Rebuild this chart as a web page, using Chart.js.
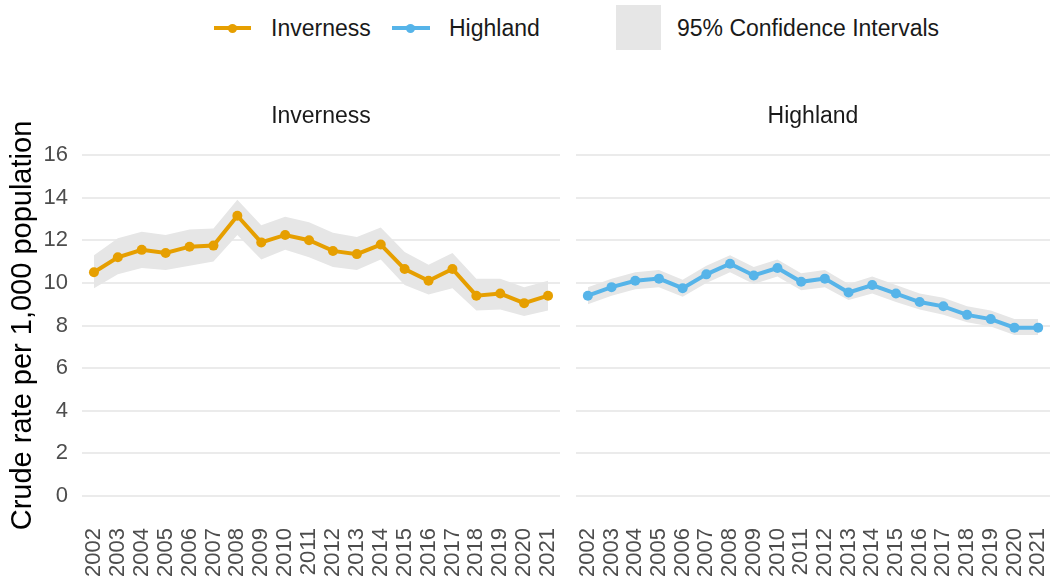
<!DOCTYPE html>
<html>
<head>
<meta charset="utf-8">
<script src="https://cdn.jsdelivr.net/npm/chart.js@4.4.0/dist/chart.umd.min.js"></script>
<style>
  body { margin: 0; background: #fff; width: 1055px; height: 585px; position: relative; overflow: hidden;
         font-family: "Liberation Sans", Arial, sans-serif; }
  canvas { position: absolute; top: 0; }
  #leftPanel { left: 0; }
  #rightPanel { left: 571px; }
  .lg { position: absolute; font-size: 23px; color: #1a1a1a; line-height: 26px; top: 15px; }
  .lgLine { position: absolute; height: 4px; top: 26px; }
  .lgDot { position: absolute; width: 9px; height: 9px; border-radius: 50%; top: 23.5px; }
  #ciBox { position: absolute; left: 616px; top: 5px; width: 45px; height: 45px; background: #e6e6e6; }
</style>
</head>
<body>
<div class="lgLine" style="left:214px;width:37px;background:#E69F00"></div>
<div class="lgDot" style="left:228px;background:#E69F00"></div>
<div class="lg" style="left:271px">Inverness</div>
<div class="lgLine" style="left:392px;width:38px;background:#56B4E9"></div>
<div class="lgDot" style="left:406px;background:#56B4E9"></div>
<div class="lg" style="left:449px">Highland</div>
<div id="ciBox"></div>
<div class="lg" style="left:677px">95% Confidence Intervals</div>

<canvas id="leftPanel" width="565" height="585"></canvas>
<canvas id="rightPanel" width="484" height="585"></canvas>

<script>
// Data
const years = ['2002','2003','2004','2005','2006','2007','2008','2009','2010','2011',
               '2012','2013','2014','2015','2016','2017','2018','2019','2020','2021'];

const invernessRate  = [10.5, 11.2, 11.55, 11.4, 11.7, 11.75, 13.15, 11.9, 12.25, 12.0,
                        11.5, 11.35, 11.8, 10.65, 10.1, 10.65, 9.4, 9.5, 9.05, 9.4];
const invernessLower = [9.75, 10.4, 10.7, 10.6, 10.8, 11.0, 12.25, 11.1, 11.55, 11.2,
                        10.75, 10.6, 11.1, 9.9, 9.45, 9.75, 8.7, 8.75, 8.45, 8.7];
const invernessUpper = [11.3, 12.1, 12.4, 12.25, 12.5, 12.55, 13.9, 12.7, 13.1, 12.85,
                        12.35, 12.15, 12.6, 11.45, 10.85, 11.4, 10.2, 10.2, 9.8, 10.1];

const highlandRate  = [9.4, 9.8, 10.1, 10.2, 9.75, 10.4, 10.9, 10.35, 10.7, 10.05,
                       10.2, 9.55, 9.9, 9.5, 9.1, 8.9, 8.5, 8.3, 7.9, 7.9];
const highlandLower = [9.0, 9.4, 9.7, 9.8, 9.35, 10.0, 10.5, 9.95, 10.3, 9.65,
                       9.8, 9.2, 9.5, 9.1, 8.75, 8.5, 8.15, 7.95, 7.55, 7.55];
const highlandUpper = [9.8, 10.2, 10.5, 10.6, 10.15, 10.8, 11.3, 10.75, 11.1, 10.45,
                       10.6, 9.95, 10.3, 9.9, 9.5, 9.3, 8.9, 8.7, 8.3, 8.3];

const yTicks = [0, 2, 4, 6, 8, 10, 12, 14, 16];

const FONT = '"Liberation Sans", Arial, sans-serif';
const BAND = '#e6e6e6';
const GRID = '#ebebeb';

// facet strip label, centred over the plot area (not the whole canvas)
const stripTitle = {
  id: 'stripTitle',
  afterDraw(chart, args, opts) {
    const { ctx, chartArea } = chart;
    ctx.save();
    ctx.font = '23px ' + FONT;
    ctx.fillStyle = '#1a1a1a';
    ctx.textAlign = 'center';
    ctx.textBaseline = 'middle';
    ctx.fillText(opts.text, (chartArea.left + chartArea.right) / 2, 117);
    ctx.restore();
  }
};

// Build one facet panel
function makePanel(canvasId, title, rate, lower, upper, color, isLeft) {
  const ctx = document.getElementById(canvasId).getContext('2d');
  return new Chart(ctx, {
    type: 'line',
    plugins: [stripTitle],
    data: {
      labels: years,
      datasets: [
        { // main line, drawn on top
          data: rate,
          borderColor: color,
          backgroundColor: color,
          borderWidth: 4,
          pointRadius: 5,
          pointBorderWidth: 0,
          pointBackgroundColor: color,
          tension: 0,
          fill: false
        },
        { // upper CI, filled down to the lower CI
          data: upper,
          borderWidth: 0,
          borderColor: 'rgba(0,0,0,0)',
          backgroundColor: BAND,
          pointRadius: 0,
          fill: '+1'
        },
        {
          data: lower,
          borderWidth: 0,
          borderColor: 'rgba(0,0,0,0)',
          pointRadius: 0,
          fill: false
        }
      ]
    },
    options: {
      responsive: false,
      animation: false,
      layout: { padding: { left: 0, right: isLeft ? 5 : 1, top: 138, bottom: 0 } },
      plugins: {
        legend: { display: false },
        tooltip: { enabled: false },
        title: { display: false },
        stripTitle: { text: title }
      },
      scales: {
        x: {
          offset: true,
          grid: { display: false, drawTicks: false },
          border: { display: false },
          ticks: {
            autoSkip: false,
            minRotation: 90,
            maxRotation: 90,
            padding: 15,
            color: '#4d4d4d',
            font: { family: FONT, size: 22 }
          },
          afterFit: (scale) => {
            scale.height = 72;
            scale.paddingLeft = 0;
            scale.paddingRight = 0;
          }
        },
        y: {
          min: -0.8,
          max: 16.8,
          grid: { color: GRID, lineWidth: 2, drawTicks: false },
          border: { display: false },
          ticks: {
            display: isLeft,
            padding: 14,
            color: '#4d4d4d',
            font: { family: FONT, size: 22 }
          },
          title: {
            display: isLeft,
            text: 'Crude rate per 1,000 population',
            color: '#000',
            font: { family: FONT, size: 29 },
            padding: { top: 6, bottom: 0 }
          },
          afterBuildTicks: (scale) => { scale.ticks = yTicks.map(v => ({ value: v })); },
          afterFit: (scale) => {
            scale.width = isLeft ? 82 : 5;
            scale.paddingTop = 0;
            scale.paddingBottom = 0;
          }
        }
      }
    }
  });
}

makePanel('leftPanel', 'Inverness', invernessRate, invernessLower, invernessUpper, '#E69F00', true);
makePanel('rightPanel', 'Highland', highlandRate, highlandLower, highlandUpper, '#56B4E9', false);
</script>
</body>
</html>
